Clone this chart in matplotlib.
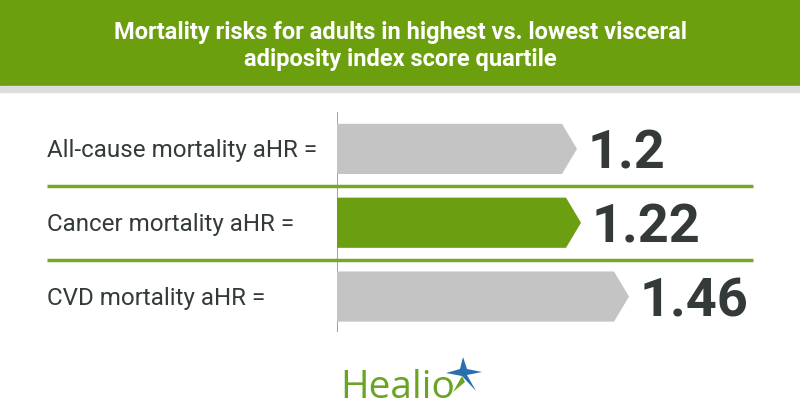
import numpy as np
import matplotlib.pyplot as plt
from matplotlib.patches import Polygon, Rectangle
from matplotlib import transforms

# data
labels = ["All-cause mortality aHR =", "Cancer mortality aHR =", "CVD mortality aHR ="]
values = [1.2, 1.22, 1.46]
value_text = ["1.2", "1.22", "1.46"]
bar_colors = ["#c4c4c4", "#6c9e12", "#c4c4c4"]

title = "Mortality risks for adults in highest vs. lowest visceral\nadiposity index score quartile"

green = "#6b9f0e"
dark = "#343a3a"

W, H = 800, 420
fig = plt.figure(figsize=(8, 4.2), dpi=100)
fig.patch.set_facecolor("white")

# header band
fig.patches.append(Rectangle((0, 1 - 86 / H), 1, 86 / H, transform=fig.transFigure,
                             color=green, zorder=0))
fig.patches.append(Rectangle((0, 1 - 92 / H), 1, 6 / H, transform=fig.transFigure,
                             color="#dddddd", zorder=0))
fig.text(0.5, 1 - 46 / H, title, ha="center", va="center", color="white",
         fontsize=17, fontweight="bold", linespacing=1.25, family="Roboto")

# bars axes: x from 337px, 200 px per unit
ax = fig.add_axes([337 / W, 1 - 332 / H, 420 / W, 220 / H])
ax.set_xlim(0, 2.1)
ax.set_ylim(2.48, -0.5)
ax.axis("off")
ax.axvline(0, color="#9a9a9a", lw=1.3, zorder=1)

bar_h = 0.68
tip = 0.075
for i, (v, c) in enumerate(zip(values, bar_colors)):
    pts = [(0, i - bar_h / 2), (v - tip, i - bar_h / 2), (v, i),
           (v - tip, i + bar_h / 2), (0, i + bar_h / 2)]
    ax.add_patch(Polygon(pts, closed=True, facecolor=c, edgecolor="none", zorder=2))
    ax.text(v + 0.055, i + 0.27, value_text[i], ha="left", va="baseline",
            fontsize=39, fontweight="bold", color=dark, family="Roboto")

lab_tr = transforms.blended_transform_factory(fig.transFigure, ax.transData)
for i, lab in enumerate(labels):
    ax.text(47 / W, i + 0.11, lab, transform=lab_tr, ha="left", va="baseline",
            fontsize=17.4, color=dark, family="Roboto")

for y in [0.5, 1.5]:
    ax.hlines(y, -1.45, 2.08, color="#76a823", lw=2.5, clip_on=False, zorder=3)

# Healio logo
fig.text(340 / W, 1 - 398 / H, "Healio", ha="left", va="baseline",
         fontsize=28, color="#6aa425", family="Open Sans")
cx, cy = 463 / W, 1 - 372 / H
sx, sy = 1 / W, 1 / H
star = [(cx, cy + 15 * sy), (cx + 4 * sx, cy + 3 * sy), (cx + 19 * sx, cy + 0 * sy),
        (cx + 4 * sx, cy - 3 * sy), (cx + 13 * sx, cy - 19 * sy), (cx - 1 * sx, cy - 4 * sy),
        (cx - 17 * sx, cy - 1 * sy), (cx - 3 * sx, cy + 3 * sy)]
fig.patches.append(Polygon(star, closed=True, transform=fig.transFigure,
                           facecolor="#2a6fad", edgecolor="none"))
leaf = [(cx - 1 * sx, cy - 4 * sy), (cx - 10 * sx, cy - 20 * sy), (cx + 2 * sx, cy - 10 * sy)]
fig.patches.append(Polygon(leaf, closed=True, transform=fig.transFigure,
                           facecolor="#6aa425", edgecolor="none"))

fig.savefig("out.png", dpi=100)
